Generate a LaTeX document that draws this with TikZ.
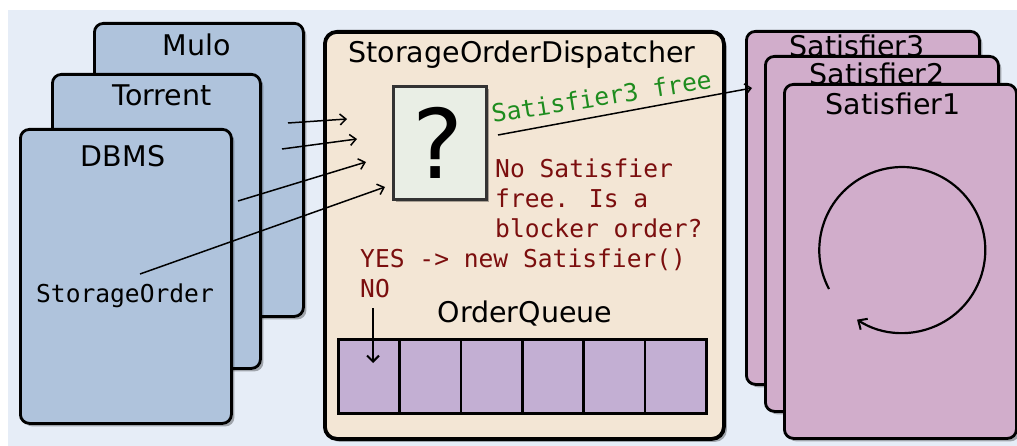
\documentclass[tikz,border=0pt]{standalone}
\usepackage{fontspec}
\setmainfont{DejaVu Sans}
\newfontfamily\codefont{DejaVu Sans Mono}
\usetikzlibrary{shadows,arrows.meta}
\definecolor{bgcol}{HTML}{E6EDF7}
\definecolor{bluecard}{HTML}{AFC3DC}
\definecolor{beige}{HTML}{F3E6D5}
\definecolor{purplecard}{HTML}{D1ADCB}
\definecolor{queuecol}{HTML}{C3AFD3}
\definecolor{qboxcol}{HTML}{E9EEE5}
\definecolor{greentxt}{HTML}{1E8C1E}
\definecolor{redtxt}{HTML}{7B0E0E}
\tikzset{
  shad/.style={drop shadow={shadow xshift=3pt,shadow yshift=-3pt,opacity=0.3,fill=black}},
  card/.style={draw=black, line width=2.8pt, rounded corners=9pt, anchor=north west, inner sep=0pt, shad},
  lbl/.style={anchor=base, inner sep=0pt, font=\fontsize{28.5}{30}\selectfont},
  code/.style={inner sep=0pt, font=\codefont\fontsize{24.6}{30}\selectfont},
  arr/.style={line width=1.5pt, -{Straight Barb[length=6pt,width=11pt,line width=1.5pt]}},
  qcell/.style={draw=black, line width=2.8pt, fill=queuecol, anchor=north west, minimum width=61.33pt, minimum height=74pt, inner sep=0pt}
}
\begin{document}
\begin{tikzpicture}[x=1pt,y=-1pt]
\useasboundingbox (0,0) rectangle (1017,446);
\fill[bgcol] (8,10) rectangle (1017,446);
% left cards
\node[card, fill=bluecard, minimum width=209pt, minimum height=293pt] (mulo) at (93,22) {};
\node[lbl] (mulot) at (197,56) {Mulo};
\node[card, fill=bluecard, minimum width=208pt, minimum height=294pt] (torrent) at (51,73) {};
\node[lbl] (torrentt) at (162,106) {Torrent};
\node[card, fill=bluecard, minimum width=211pt, minimum height=294pt] (dbms) at (19,128) {};
\node[lbl] (dbmst) at (123,167) {DBMS};
\node[code, anchor=base] (sorder) at (125,302) {StorageOrder};
% dispatcher
\node[card, fill=beige, line width=3.8pt, rounded corners=12pt, minimum width=399pt, minimum height=407pt] (disp) at (323,30) {};
\node[lbl] (dispt) at (522,63) {StorageOrderDispatcher};
\node[draw=black!80, line width=2.6pt, fill=qboxcol, anchor=north west, minimum width=93pt, minimum height=113pt, inner sep=0pt, shad] (qbox) at (392,85) {};
\node[inner sep=0pt, font=\fontsize{96}{96}\selectfont] (qmark) at (438,143) {?};
\node[code, text=greentxt, anchor=base west, rotate=9] (green) at (493,123) {Satisfier3 free};
\node[code, text=redtxt, anchor=base west] (red1) at (495,178) {No Satisfier};
\node[code, text=redtxt, anchor=base west] (red2) at (495,208) {free. Is a};
\node[code, text=redtxt, anchor=base west] (red3) at (495,238) {blocker order?};
\node[code, text=redtxt, anchor=base west] (yes) at (360,268) {YES -> new Satisfier()};
\node[code, text=redtxt, anchor=base west] (no) at (360,298) {NO};
\node[lbl] (oq) at (525,322) {OrderQueue};
\node[fill=queuecol, anchor=north west, minimum width=368pt, minimum height=74pt, inner sep=0pt, shad] (queue) at (337,338) {};
\node[qcell] (q1) at (337,338) {};
\node[qcell] (q2) at (398.33,338) {};
\node[qcell] (q3) at (459.67,338) {};
\node[qcell] (q4) at (521,338) {};
\node[qcell] (q5) at (582.33,338) {};
\node[qcell] (q6) at (643.67,338) {};
% satisfiers
\node[card, fill=purplecard, minimum width=233pt, minimum height=353pt] (sat3) at (745,30) {};
\node[lbl] (sat3t) at (857,57) {Satisfier3};
\node[card, fill=purplecard, minimum width=233pt, minimum height=355pt] (sat2) at (764,55) {};
\node[lbl] (sat2t) at (877,85) {Satisfier2};
\node[card, fill=purplecard, minimum width=232pt, minimum height=354pt] (sat1) at (783,83) {};
\node[lbl] (sat1t) at (893,115) {Satisfier1};
\coordinate (loopc) at (902,250);
\draw[line width=2.2pt, -{Straight Barb[length=7pt,width=13pt,line width=2pt]}] (829,289) arc[start angle=152, end angle=483, radius=83];
% arrows
\coordinate (a1s) at (288,123); \coordinate (a1e) at (347,119);
\coordinate (a2s) at (282,149); \coordinate (a2e) at (357,139);
\coordinate (a3s) at (238,201); \coordinate (a3e) at (366,162);
\coordinate (a4s) at (140,274); \coordinate (a4e) at (385,187);
\draw[arr] (a1s) -- (a1e);
\draw[arr] (a2s) -- (a2e);
\draw[arr] (a3s) -- (a3e);
\draw[arr] (a4s) -- (a4e);
\coordinate (gs) at (498,135); \coordinate (ge) at (752,88);
\draw[arr] (gs) -- (ge);
\coordinate (nos) at (373,308); \coordinate (noe) at (373,363);
\draw[line width=2.2pt, -{Straight Barb[length=6pt,width=12pt,line width=2pt]}] (nos) -- (noe);
\end{tikzpicture}
\end{document}
